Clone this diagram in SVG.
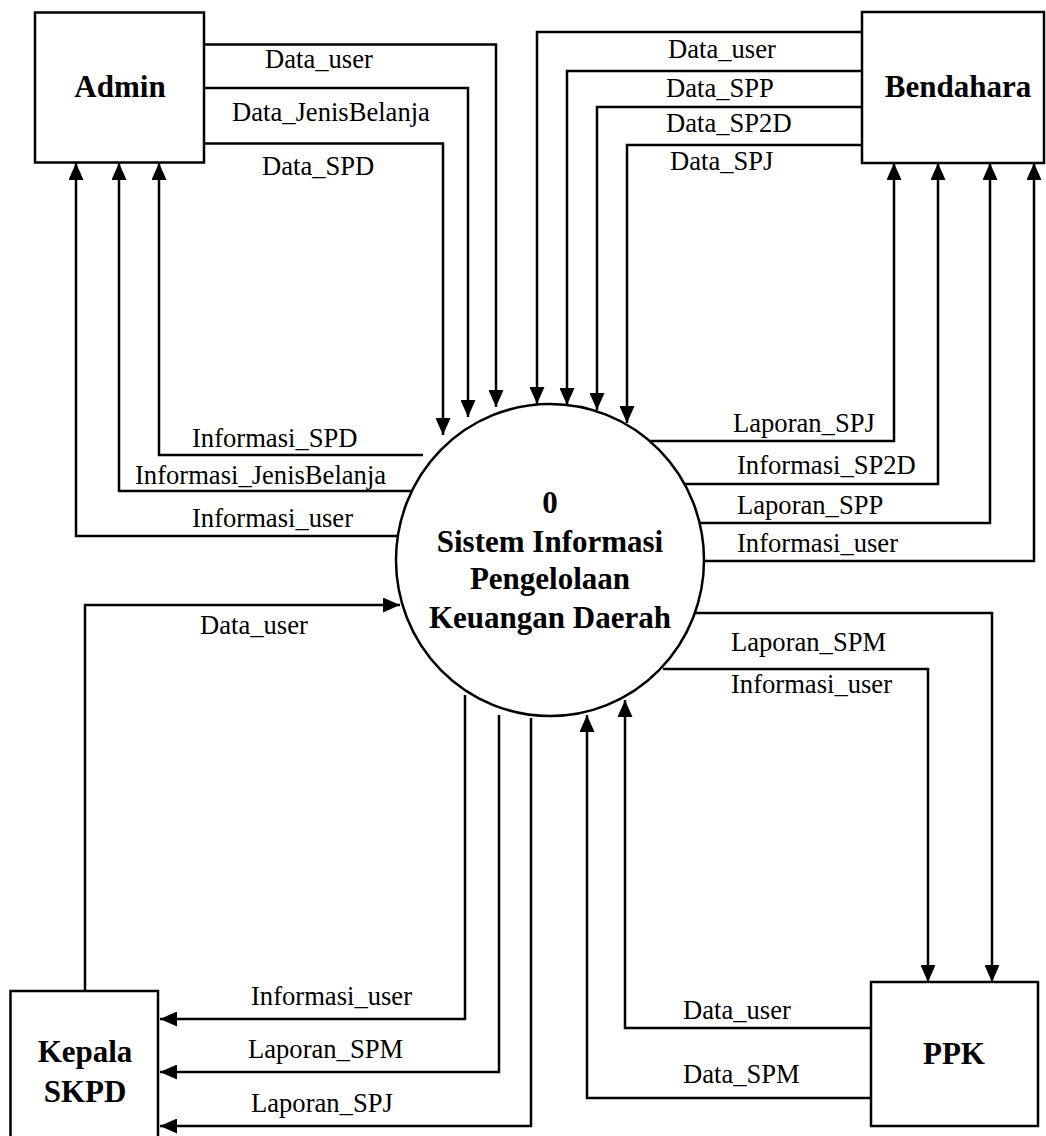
<svg xmlns="http://www.w3.org/2000/svg" width="1046" height="1136" viewBox="0 0 1046 1136">
<style>
.box{fill:#fff;stroke:#000;stroke-width:2.5}
.proc{fill:#fff;stroke:#000;stroke-width:2.5}
.flow{fill:none;stroke:#000;stroke-width:2.5;marker-end:url(#arr)}
.lbl{font-family:"Liberation Serif","Times New Roman",serif;font-size:26.6px;fill:#000}
.ttl{font-family:"Liberation Serif","Times New Roman",serif;font-size:31px;font-weight:bold;fill:#000}
</style>
<defs>
<marker id="arr" markerUnits="userSpaceOnUse" markerWidth="17" markerHeight="15" refX="17" refY="7.5" orient="auto">
<path d="M0,0 L17,7.5 L0,15 z" fill="#000"/>
</marker>
</defs>
<rect width="1046" height="1136" fill="#fff"/>
<g id="connectors">
<path class="flow" d="M204,44.5 H496 V407"/>
<path class="flow" d="M204,88 H468 V417"/>
<path class="flow" d="M204,143.5 H443 V435"/>
<path class="flow" d="M423,455 H159 V163"/>
<path class="flow" d="M413,491 H119 V163"/>
<path class="flow" d="M398,536 H76 V163"/>
<path class="flow" d="M862,32 H537 V404"/>
<path class="flow" d="M862,71 H567 V405"/>
<path class="flow" d="M862,107 H597 V410"/>
<path class="flow" d="M862,145 H627 V423"/>
<path class="flow" d="M650,441 H894 V163"/>
<path class="flow" d="M678,484 H938 V163"/>
<path class="flow" d="M700,523 H990 V163"/>
<path class="flow" d="M704,561 H1034 V163"/>
<path class="flow" d="M692,613 H992 V982"/>
<path class="flow" d="M663,669 H928 V982"/>
<path class="flow" d="M871,1028 H625 V700"/>
<path class="flow" d="M871,1098 H587 V715"/>
<path class="flow" d="M85,991 V605 H400"/>
<path class="flow" d="M465,695 V1019 H160"/>
<path class="flow" d="M499,715 V1072 H160"/>
<path class="flow" d="M531,718 V1126 H160"/>
<text class="lbl" x="265" y="68">Data_user</text>
<text class="lbl" x="232" y="121">Data_JenisBelanja</text>
<text class="lbl" x="262" y="175">Data_SPD</text>
<text class="lbl" x="192" y="447">Informasi_SPD</text>
<text class="lbl" x="135" y="484">Informasi_JenisBelanja</text>
<text class="lbl" x="192" y="527">Informasi_user</text>
<text class="lbl" x="200" y="634">Data_user</text>
<text class="lbl" x="668" y="58">Data_user</text>
<text class="lbl" x="666" y="97">Data_SPP</text>
<text class="lbl" x="666" y="132">Data_SP2D</text>
<text class="lbl" x="670" y="170">Data_SPJ</text>
<text class="lbl" x="733" y="432">Laporan_SPJ</text>
<text class="lbl" x="737" y="474">Informasi_SP2D</text>
<text class="lbl" x="737" y="514">Laporan_SPP</text>
<text class="lbl" x="737" y="552">Informasi_user</text>
<text class="lbl" x="731" y="651">Laporan_SPM</text>
<text class="lbl" x="731" y="693">Informasi_user</text>
<text class="lbl" x="683" y="1019">Data_user</text>
<text class="lbl" x="683" y="1083">Data_SPM</text>
<text class="lbl" x="251" y="1005">Informasi_user</text>
<text class="lbl" x="248" y="1058">Laporan_SPM</text>
<text class="lbl" x="251" y="1112">Laporan_SPJ</text>
</g>
<g id="admin">
<rect class="box" x="35" y="12.5" width="169" height="150"/>
<text class="ttl" x="120" y="97" text-anchor="middle">Admin</text>
</g>
<g id="bendahara">
<rect class="box" x="862" y="12" width="182" height="151"/>
<text class="ttl" x="958" y="97" text-anchor="middle">Bendahara</text>
</g>
<g id="process">
<ellipse class="proc" cx="550" cy="560" rx="154" ry="156"/>
<text class="ttl" x="550" y="513" text-anchor="middle">0</text>
<text class="ttl" x="550" y="552" text-anchor="middle">Sistem Informasi</text>
<text class="ttl" x="550" y="589" text-anchor="middle">Pengelolaan</text>
<text class="ttl" x="550" y="628" text-anchor="middle">Keuangan Daerah</text>
</g>
<g id="kepala-skpd">
<rect class="box" x="10.5" y="991" width="147.5" height="160"/>
<text class="ttl" x="85" y="1062" text-anchor="middle">Kepala</text>
<text class="ttl" x="85" y="1102" text-anchor="middle">SKPD</text>
</g>
<g id="ppk">
<rect class="box" x="871" y="982" width="167" height="144"/>
<text class="ttl" x="954" y="1064" text-anchor="middle">PPK</text>
</g>
</svg>
